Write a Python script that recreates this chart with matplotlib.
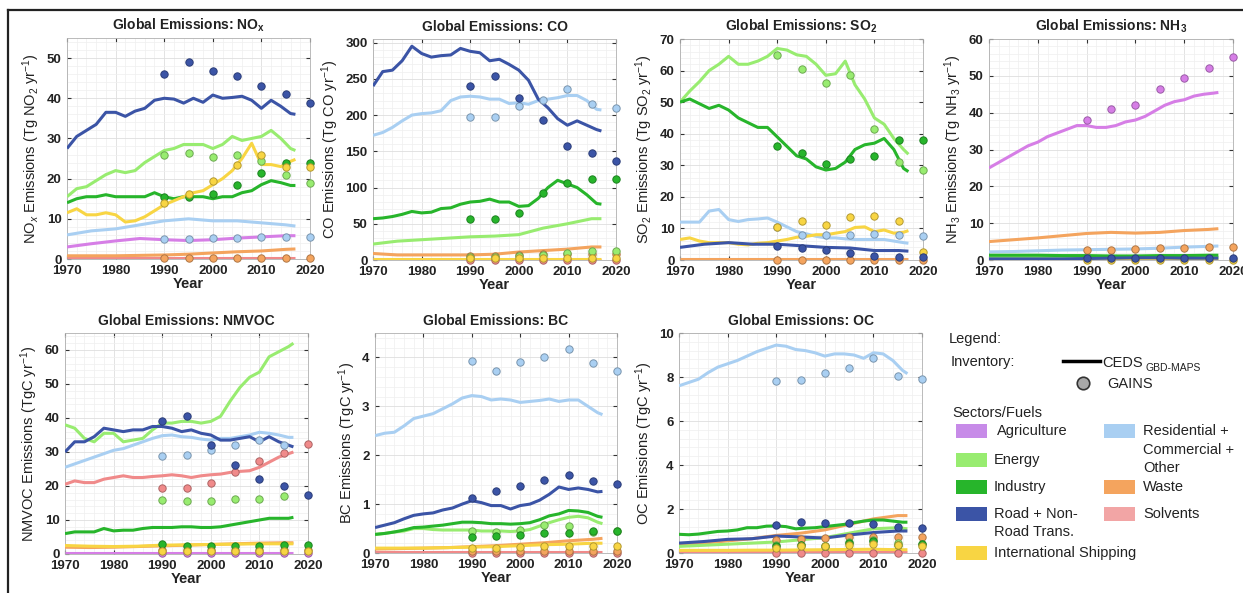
import numpy as np
import matplotlib
matplotlib.use("Agg")
import matplotlib.pyplot as plt
from matplotlib.ticker import MultipleLocator, AutoMinorLocator
from matplotlib.lines import Line2D
from matplotlib.patches import Rectangle

plt.rcParams['font.family'] = ['Liberation Sans', 'DejaVu Sans']
plt.rcParams['mathtext.fontset'] = 'custom'
plt.rcParams['mathtext.rm'] = 'Liberation Sans'
plt.rcParams['mathtext.it'] = 'Liberation Sans:italic'
plt.rcParams['mathtext.bf'] = 'Liberation Sans:bold'

# years
YR = list(range(1970, 2017, 2)) + [2017]          # CEDS, detailed series
YC = [1970, 1975, 1980, 1985, 1990, 1995, 2000, 2005, 2010, 2015, 2017]  # CEDS, flat series
GY = [1990, 1995, 2000, 2005, 2010, 2015, 2020]   # GAINS
nan = np.nan

# sector colours
COLORS = {
    'ag': '#d67ee6', 'energy': '#98ec70', 'industry': '#27b52b', 'road': '#3b54a6',
    'ship': '#f8d543', 'res': '#a9cff2', 'waste': '#f4a45e', 'solv': '#f08a8a',
}
ORDER = ['solv', 'waste', 'ag', 'res', 'energy', 'industry', 'ship', 'road']

# ---- NOx ----
nox_full = {
    'road': [27.5, 30.5, 32, 33.5, 36.5, 36.5, 35.5, 36.8, 37.5, 39.5, 40, 39.8, 38.8, 40, 39, 40.8, 40, 40.2, 40.5, 39.5, 37.5, 39.5, 38, 36.2, 36],
    'energy': [15.5, 17.5, 18, 19.5, 21, 22, 21.5, 22, 24, 25.5, 27, 27.5, 28.5, 28.5, 28.5, 27.5, 28.5, 30.5, 29.5, 30, 30.5, 32, 30, 27.5, 27],
    'industry': [14, 15, 15.5, 15.5, 16, 15.5, 15.5, 15.5, 15.5, 16.5, 15.5, 15, 15.5, 15.5, 15.5, 15, 15.5, 15.5, 16.5, 17, 18.5, 19.5, 19, 18.3, 18.3],
    'ship': [11.5, 12.5, 11, 11, 11.5, 11, 9.2, 9.5, 10.5, 12, 13.5, 14.5, 15.5, 16.5, 17, 18.5, 20, 22, 25, 28.8, 23.5, 23.5, 23, 24.3, 24.8],
}
nox_coarse = {
    'res': [6, 7, 7.5, 8.5, 9.5, 10, 9.5, 9.5, 9, 8.5, 8.2],
    'ag': [3, 3.8, 4.5, 5.1, 4.8, 4.6, 4.8, 5.2, 5.5, 5.8, 5.8],
    'waste': [0.8, 0.8, 0.8, 0.9, 1.0, 1.2, 1.5, 1.8, 2.0, 2.4, 2.5],
    'solv': [0.2, 0.2, 0.2, 0.2, 0.2, 0.2, 0.2, 0.2, 0.2, 0.2, 0.2],
}
nox_gains = {
    'road': [46, 49, 46.7, 45.5, 43, 41, 38.8],
    'energy': [26, 26.5, 25.3, 26, 24.5, 20.8, 19],
    'industry': [15.5, 15.5, 16.2, 18.5, 21.5, 24, 24],
    'ship': [14, 16.3, 19.3, 23.5, 25.8, 23, 23],
    'res': [5, 5, 5.2, 5.3, 5.5, 5.5, 5.5],
    'waste': [0.3, 0.3, 0.3, 0.3, 0.3, 0.3, 0.3],
}

# ---- CO ----
co_full = {
    'road': [240, 260, 262, 275, 295, 285, 280, 282, 283, 292, 288, 286, 275, 277, 270, 262, 248, 222, 210, 195, 186, 192, 186, 180, 178],
    'res': [172, 176, 183, 192, 200, 202, 203, 206, 220, 225, 226, 225, 222, 222, 216, 217, 215, 220, 222, 224, 227, 227, 220, 208, 207],
    'industry': [57, 58, 60, 63, 67, 65, 66, 71, 72, 77, 80, 81, 84, 80, 80, 74, 75, 85, 100, 110, 105, 100, 90, 78, 77],
}
co_coarse = {
    'energy': [22, 26, 28, 30, 32, 33, 35, 44, 50, 57, 57],
    'waste': [9, 7, 7, 7, 7, 8, 11, 13, 15, 18, 18],
    'ship': [2, 2, 2, 2, 2, 2, 2, 2, 2, 2, 2],
    'solv': [0.3, 0.3, 0.3, 0.3, 0.3, 0.3, 0.3, 0.3, 0.3, 0.3, 0.3],
}
co_gains = {
    'road': [240, 254, 224, 193, 158, 147, 136],
    'res': [198, 198, 213, 221, 236, 215, 210],
    'industry': [57, 57, 65, 93, 106, 112, 112],
    'energy': [4, 4, 5, 7, 10, 12, 13],
    'waste': [6, 6, 7, 8, 8, 8, 8],
    'ship': [3, 3, 3, 3, 3, 3, 3],
    'solv': [0, 0, 0, 0, 0, 0, 0],
}

# ---- SO2 ----
so2_full = {
    'energy': [50, 53.5, 56.5, 60, 62, 64.5, 62, 62, 63, 64.5, 67, 66.5, 65, 64.5, 62, 58.5, 59, 63, 55.5, 51, 45, 43, 38.5, 35, 33.5],
    'industry': [50, 51, 49.5, 48, 49, 47.5, 45, 43.5, 42, 42, 39, 36, 33, 32, 29.5, 28.5, 29, 31, 35, 36.5, 37, 38.5, 35, 29, 28],
    'res': [12, 12, 12, 15.5, 16, 12.8, 12.2, 12.8, 13, 13.3, 12, 10.5, 9, 8.3, 7.5, 7, 7, 6.7, 6.5, 6.5, 6.5, 6.5, 6, 5.5, 5.3],
    'ship': [6.5, 7, 6, 5.5, 5.5, 5.5, 5, 4.8, 5.3, 5.5, 6, 6.5, 7.2, 7.5, 8, 8, 8.5, 9, 10.3, 10.5, 9, 9.5, 8.5, 8.8, 9.3],
}
so2_coarse = {
    'road': [4, 5, 5.5, 5, 5, 4.5, 4, 3.8, 3, 3, 2.8],
    'waste': [0.3, 0.3, 0.3, 0.3, 0.3, 0.3, 0.3, 0.3, 0.3, 0.3, 0.3],
}
so2_gains = {
    'energy': [65, 60.5, 56, 58.5, 41.5, 31, 28.5],
    'industry': [36, 34, 30.5, 32, 33, 38, 38],
    'res': [10.5, 8, 7.8, 8, 8.2, 8, 7.5],
    'ship': [10.5, 12.5, 11, 13.5, 14, 12.5, 2.5],
    'road': [4.5, 3.8, 3.2, 2.3, 1.3, 1, 1],
    'waste': [0, 0, 0, 0, 0, 0, 0],
}

# ---- NH3 ----
nh3_full = {
    'ag': [25, 26.5, 28, 29.5, 31, 32, 33.5, 34.5, 35.5, 36.5, 36.5, 36, 36, 36.5, 37.5, 38, 39, 40.5, 42, 43, 43.5, 44.5, 45, 45.3, 45.5],
}
nh3_coarse = {
    'waste': [5, 5.5, 6, 6.6, 7.2, 7.5, 7.3, 7.5, 8, 8.3, 8.5],
    'res': [2.2, 2.3, 2.5, 2.7, 2.8, 2.9, 3, 3.2, 3.5, 3.7, 3.8],
    'industry': [1.3, 1.3, 1.3, 1.2, 1.2, 1.1, 1.1, 1.2, 1.2, 1.3, 1.3],
    'energy': [0.8, 0.8, 0.8, 0.8, 0.8, 0.8, 0.8, 0.8, 0.8, 0.8, 0.8],
    'road': [0.3, 0.3, 0.3, 0.3, 0.4, 0.5, 0.6, 0.6, 0.5, 0.5, 0.5],
    'ship': [0.1, 0.1, 0.1, 0.1, 0.1, 0.1, 0.1, 0.1, 0.1, 0.1, 0.1],
}
nh3_gains = {
    'ag': [38, 41, 42, 46.5, 49.5, 52, 55],
    'waste': [2.8, 2.8, 3, 3.2, 3.3, 3.4, 3.6],
    'road': [0.5, 0.5, 0.5, 0.5, 0.5, 0.5, 0.5],
    'ship': [0.1, 0.1, 0.1, 0.1, 0.1, 0.1, 0.1],
}

# ---- NMVOC ----
voc_full = {
    'energy': [38, 37, 34, 33, 35.5, 35.5, 33, 33.5, 34, 36.5, 38.5, 38.5, 39, 39, 38.5, 39, 40.5, 45, 49, 52, 53.5, 58, 59.5, 61, 62],
    'road': [30, 33, 33, 34.5, 37, 36.5, 36, 36.5, 36.5, 37.5, 37.5, 37, 36, 36.5, 35.5, 35, 33.5, 33.5, 34, 34.5, 33, 34.5, 33, 32, 31.5],
    'res': [25.5, 26.5, 27.5, 28.5, 29.5, 30.5, 31, 32, 33, 34, 34.8, 35, 34.5, 34.3, 33.8, 33.5, 34, 34, 34.5, 35, 35.8, 35.5, 35, 34.3, 34.3],
    'solv': [20.5, 21.5, 21, 21, 22, 22.5, 23, 22.5, 22.5, 22.8, 23, 23.3, 23, 22.5, 23, 23.3, 23.5, 24, 24.3, 24.5, 25.5, 27, 28.5, 29.5, 30],
    'industry': [6, 6.5, 6.5, 6.5, 7.5, 6.8, 7, 7, 7.5, 7.8, 7.8, 7.8, 8, 8, 7.8, 7.8, 8, 8.5, 9, 9.5, 10, 10.5, 10.5, 10.5, 10.8],
}
voc_coarse = {
    'ship': [2.5, 2.3, 2.2, 2.3, 2.6, 2.7, 2.8, 2.9, 3, 3, 3],
    'waste': [2, 1.9, 2, 2.2, 2.4, 2.6, 2.8, 3, 3.2, 3.3, 3.3],
    'ag': [0.3, 0.3, 0.3, 0.3, 0.3, 0.3, 0.3, 0.3, 0.3, 0.3, 0.3],
}
voc_gains = {
    'road': [39, 40.5, 32.2, 26.3, 22.2, 20, 17.5],
    'res': [28.8, 29, 30.5, 32, 33.5, 32, nan],
    'solv': [19.5, 19.5, 21, 24.2, 27.3, 29.8, 32.3],
    'energy': [16, 15.5, 15.6, 16.3, 16.3, 17, nan],
    'industry': [2.8, 2.5, 2.3, 2.5, 2.4, 2.6, 2.7],
    'waste': [1.2, 1.2, 1.2, 1.2, 1.2, 1.2, 1.2],
    'ship': [0.8, 0.8, 0.8, 0.8, 0.8, 0.8, 0.8],
    'ag': [0.2, 0.2, 0.2, 0.2, 0.2, 0.2, 0.2],
}

# ---- BC ----
bc_full = {
    'res': [2.4, 2.45, 2.47, 2.6, 2.75, 2.8, 2.85, 2.95, 3.05, 3.17, 3.22, 3.2, 3.13, 3.15, 3.13, 3.08, 3.1, 3.12, 3.15, 3.1, 3.13, 3.13, 3.0, 2.87, 2.83],
    'road': [0.52, 0.57, 0.62, 0.7, 0.77, 0.8, 0.82, 0.88, 0.92, 1.0, 1.07, 1.03, 0.97, 0.97, 0.9, 0.97, 1.0, 1.08, 1.2, 1.35, 1.3, 1.33, 1.3, 1.25, 1.26],
    'industry': [0.38, 0.4, 0.43, 0.47, 0.52, 0.53, 0.55, 0.57, 0.6, 0.63, 0.63, 0.62, 0.6, 0.6, 0.59, 0.6, 0.62, 0.68, 0.76, 0.8, 0.87, 0.86, 0.83, 0.75, 0.73],
    'energy': [0.38, 0.4, 0.43, 0.45, 0.5, 0.5, 0.48, 0.47, 0.47, 0.47, 0.47, 0.45, 0.45, 0.45, 0.44, 0.45, 0.48, 0.55, 0.62, 0.68, 0.73, 0.75, 0.72, 0.63, 0.6],
}
bc_coarse = {
    'waste': [0.08, 0.09, 0.1, 0.11, 0.13, 0.15, 0.18, 0.21, 0.25, 0.28, 0.3],
    'ship': [0.1, 0.1, 0.1, 0.11, 0.12, 0.13, 0.15, 0.17, 0.18, 0.2, 0.2],
    'solv': [0.02, 0.02, 0.02, 0.02, 0.02, 0.02, 0.02, 0.02, 0.02, 0.02, 0.02],
}
bc_gains = {
    'res': [3.92, 3.72, 3.9, 4.0, 4.18, 3.88, 3.73],
    'road': [1.12, 1.27, 1.37, 1.5, 1.6, 1.48, 1.41],
    'industry': [0.33, 0.34, 0.36, 0.4, 0.4, 0.44, 0.45],
    'energy': [0.45, 0.43, 0.47, 0.58, 0.55, 0.43, 0.45],
    'ship': [0.1, 0.1, 0.12, 0.14, 0.15, 0.15, 0.15],
    'waste': [0.05, 0.05, 0.05, 0.05, 0.05, 0.05, 0.05],
    'solv': [0.0, 0.0, 0.0, 0.0, 0.0, 0.0, 0.0],
}

# ---- OC ----
oc_full = {
    'res': [7.6, 7.75, 7.9, 8.2, 8.45, 8.6, 8.75, 8.95, 9.15, 9.3, 9.45, 9.4, 9.25, 9.2, 9.1, 8.95, 9.05, 9.05, 9.0, 8.85, 9.1, 9.05, 8.75, 8.3, 8.15],
    'industry': [0.85, 0.83, 0.86, 0.92, 0.98, 1.0, 1.05, 1.15, 1.15, 1.22, 1.23, 1.2, 1.1, 1.13, 1.15, 1.2, 1.25, 1.3, 1.38, 1.45, 1.5, 1.5, 1.45, 1.4, 1.4],
}
oc_coarse = {
    'waste': [0.35, 0.45, 0.55, 0.65, 0.8, 0.9, 1.05, 1.3, 1.55, 1.7, 1.7],
    'road': [0.45, 0.52, 0.62, 0.65, 0.77, 0.73, 0.68, 0.82, 0.93, 1.0, 1.0],
    'energy': [0.3, 0.35, 0.4, 0.45, 0.5, 0.6, 0.7, 0.9, 1.1, 1.15, 1.1],
    'ship': [0.12, 0.12, 0.12, 0.13, 0.13, 0.14, 0.15, 0.16, 0.17, 0.15, 0.15],
    'solv': [0.03, 0.03, 0.03, 0.03, 0.03, 0.03, 0.03, 0.03, 0.03, 0.03, 0.03],
}
oc_gains = {
    'res': [7.82, 7.85, 8.2, 8.42, 8.87, 8.05, 7.9],
    'road': [1.28, 1.4, 1.35, 1.35, 1.3, 1.2, 1.15],
    'waste': [0.6, 0.65, 0.7, 0.75, 0.75, 0.75, 0.75],
    'industry': [0.3, 0.35, 0.33, 0.45, 0.55, 0.35, 0.4],
    'energy': [0.35, 0.35, 0.3, 0.5, 0.6, 0.45, 0.4],
    'ship': [0.25, 0.3, 0.3, 0.35, 0.4, 0.35, 0.3],
    'solv': [0.02, 0.02, 0.02, 0.02, 0.02, 0.02, 0.02],
}

W, H = 1243, 593
fig = plt.figure(figsize=(W / 100, H / 100), dpi=100)


def px_axes(l, t, r, b):
    return fig.add_axes([l / W, 1 - b / H, (r - l) / W, (b - t) / H])


def darker(c, f=0.72):
    rgb = np.array(matplotlib.colors.to_rgb(c))
    return tuple(rgb * f)


panels = [
    # title, ylabel, full, coarse, gains, ylim, major, box(px)
    (r'Global Emissions: NO$_\mathbf{x}$', r'NO$_x$ Emissions (Tg NO$_2$ yr$^{-1}$)',
     nox_full, nox_coarse, nox_gains, 55, 10, (67, 38, 310, 259)),
    ('Global Emissions: CO', r'CO Emissions (Tg CO yr$^{-1}$)',
     co_full, co_coarse, co_gains, 305, 50, (373, 39, 616, 260)),
    (r'Global Emissions: SO$_\mathbf{2}$', r'SO$_2$ Emissions (Tg SO$_2$ yr$^{-1}$)',
     so2_full, so2_coarse, so2_gains, 70, 10, (680, 39, 923, 260)),
    (r'Global Emissions: NH$_\mathbf{3}$', r'NH$_3$ Emissions (Tg NH$_3$ yr$^{-1}$)',
     nh3_full, nh3_coarse, nh3_gains, 60, 10, (989, 39, 1233, 260)),
    ('Global Emissions: NMVOC', r'NMVOC Emissions (TgC yr$^{-1}$)',
     voc_full, voc_coarse, voc_gains, 65, 10, (65, 333, 308, 554)),
    ('Global Emissions: BC', r'BC Emissions (TgC yr$^{-1}$)',
     bc_full, bc_coarse, bc_gains, 4.5, 1, (375, 333, 617, 553)),
    ('Global Emissions: OC', r'OC Emissions (TgC yr$^{-1}$)',
     oc_full, oc_coarse, oc_gains, 10, 2, (679, 333, 922, 553)),
]

for title, ylab, full, coarse, gains, ytop, major, box in panels:
    ax = px_axes(*box)
    for key in ORDER:
        if key in coarse:
            ax.plot(YC, coarse[key], color=COLORS[key], lw=2.2, solid_capstyle='butt', zorder=3)
        if key in full:
            ax.plot(YR, full[key], color=COLORS[key], lw=2.2, solid_capstyle='butt', zorder=3)
    for key in ORDER:
        if key in gains:
            ax.plot(GY, gains[key], 'o', ls='none', ms=5.3, mfc=COLORS[key],
                    mec=darker(COLORS[key]), mew=0.7, zorder=5, clip_on=False)
    ax.set_xlim(1970, 2020)
    ax.set_ylim(0, ytop)
    ax.xaxis.set_major_locator(MultipleLocator(10))
    ax.yaxis.set_major_locator(MultipleLocator(major))
    ax.xaxis.set_minor_locator(AutoMinorLocator(5))
    ax.yaxis.set_minor_locator(AutoMinorLocator(5))
    ax.grid(which='major', color='#dedede', lw=0.6, zorder=0)
    ax.grid(which='minor', color='#efefef', lw=0.5, zorder=0)
    ax.set_axisbelow(True)
    ax.tick_params(which='both', direction='in', top=True, right=True, length=0, colors='#333333')
    ax.tick_params(which='major', length=3)
    for lab in ax.get_xticklabels() + ax.get_yticklabels():
        lab.set_fontweight('bold')
        lab.set_fontsize(9.5)
    ax.tick_params(axis='x', labelcolor='#222222', pad=4.5)
    ax.tick_params(axis='y', labelcolor='#222222', pad=4)
    for sp in ax.spines.values():
        sp.set_color('#b0b0b0')
        sp.set_linewidth(0.6)
    ax.set_title(title, fontsize=10, fontweight='bold', color='#222222', pad=6)
    ax.set_ylabel(ylab, fontsize=10.5, color='#222222', labelpad=3)
    ax.set_xlabel('Year', fontsize=10.5, fontweight='bold', color='#222222', labelpad=0)

# figure frame (top and left)
fig.add_artist(Line2D([8 / W, 1], [1 - 10 / H, 1 - 10 / H], color='#222222', lw=1.6))
fig.add_artist(Line2D([8 / W, 8 / W], [1 - 10 / H, 0], color='#222222', lw=1.6))


def ftext(x, y, s, **kw):
    kw.setdefault('fontsize', 10.5)
    kw.setdefault('color', '#222222')
    fig.text(x / W, 1 - y / H, s, va='center', ha='left', **kw)


# legend
ftext(949, 339, 'Legend:')
ftext(951, 362, 'Inventory:')
fig.add_artist(Line2D([1063 / W, 1100 / W], [1 - 361 / H, 1 - 361 / H], color='black', lw=2.5))
ftext(1102, 363, 'CEDS')
ftext(1145, 368, 'GBD-MAPS', fontsize=7.5)
fig.add_artist(Line2D([1083 / W], [1 - 383 / H], marker='o', ms=9, mfc='#a8a8a8', mec='#333333', mew=1.2))
ftext(1107, 384, 'GAINS')
ftext(952, 413, 'Sectors/Fuels')

left_items = [('ag', ['Agriculture'], 431, 997), ('energy', ['Energy'], 460, 994),
              ('industry', ['Industry'], 487, 994), ('road', ['Road + Non-', 'Road Trans.'], 514, 994),
              ('ship', ['International Shipping'], 553, 994)]
right_items = [('res', ['Residential +', 'Commercial +', 'Other'], 431, 1143),
               ('waste', ['Waste'], 487, 1143), ('solv', ['Solvents'], 514, 1143)]
patch_cols = dict(COLORS)
patch_cols['ag'] = '#c78be8'
patch_cols['solv'] = '#f2a5a5'
for items, px0 in ((left_items, 956), (right_items, 1104)):
    for key, lines, yc, tx in items:
        fig.add_artist(Rectangle((px0 / W, 1 - (yc + 7) / H), 31 / W, 14 / H,
                                 facecolor=patch_cols[key], edgecolor='none'))
        for i, s in enumerate(lines):
            ftext(tx, yc + i * 18.5, s)

fig.savefig('out.png', dpi=100)
